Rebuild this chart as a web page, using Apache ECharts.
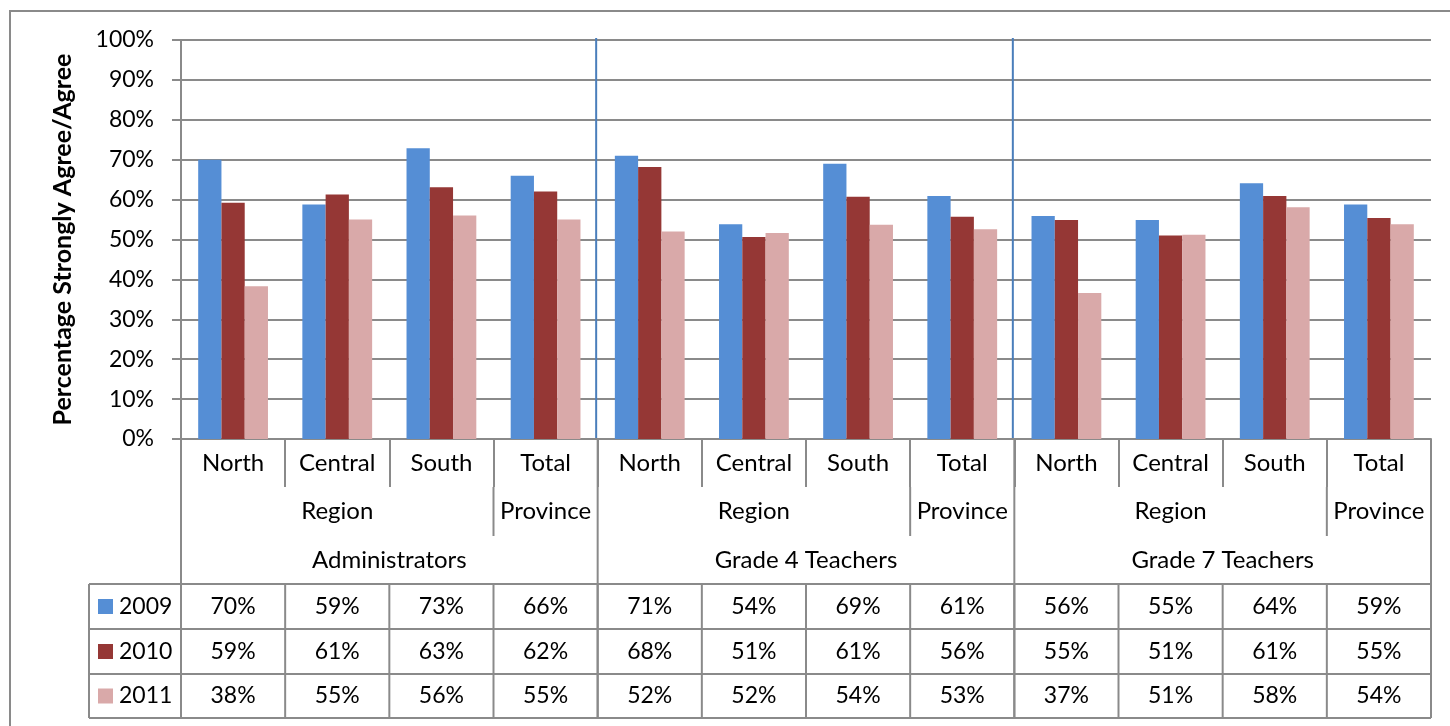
<!DOCTYPE html>
<html>
<head>
<meta charset="utf-8">
<title>Percentage Strongly Agree/Agree</title>
<script src="https://cdn.jsdelivr.net/npm/echarts@6/dist/echarts.min.js"></script>
<style>
	html,body{margin:0;padding:0;background:#fff;}
	#div_chart{width:1450px;height:726px;}
</style>
</head>
<body>
<div id="div_chart"></div>
<script>
var categories = ['North','Central','South','Total','North','Central','South','Total','North','Central','South','Total'];
var subLabels = ['Region','Province'];
var subSpans = [3,1];
var groups = ['Administrators','Grade 4 Teachers','Grade 7 Teachers'];
var years = ['2009','2010','2011'];
var data2009 = [70.0,58.8,72.9,66.0,71.0,53.8,69.0,60.9,55.9,54.9,64.1,58.8];
var data2010 = [59.2,61.3,63.1,62.0,68.2,50.6,60.7,55.7,54.9,51.0,60.9,55.4];
var data2011 = [38.3,55.0,56.0,55.0,52.0,51.6,53.7,52.6,36.6,51.2,58.1,53.8];

var colors = ['#558ED5','#953735','#D9A9A9'];
var lineColor = '#8a8a8a';
var fontFamily = 'Lato, "Open Sans", sans-serif';

function drawChart(){
	var myChart = echarts.init(document.getElementById('div_chart'));
	var allData = [data2009,data2010,data2011];
	var series = [];
	for(var i=0;i<years.length;i++){
		series.push({
			name:years[i],
			type:'bar',
			data:allData[i],
			barGap:'0%',
			barCategoryGap:'33%',
			itemStyle:{color:colors[i]},
			animation:false
		});
	}
	myChart.setOption({
		animation:false,
		color:colors,
		grid:{
			left:181,
			right:19,
			top:40,
			bottom:287
		},
		xAxis:{
			type:'category',
			data:categories,
			axisLine:{lineStyle:{color:lineColor,width:2}},
			axisTick:{show:true,interval:0,length:48,lineStyle:{color:lineColor,width:2}},
			axisLabel:{interval:0,margin:12,fontSize:24,color:'#000',fontFamily:fontFamily}
		},
		yAxis:{
			type:'value',
			min:0,
			max:100,
			interval:10,
			name:'Percentage Strongly Agree/Agree',
			nameLocation:'middle',
			nameGap:106,
			nameTextStyle:{fontSize:25,fontWeight:'bold',color:'#000',fontFamily:fontFamily},
			axisLine:{show:true,lineStyle:{color:lineColor,width:2}},
			axisTick:{show:true,length:9,lineStyle:{color:lineColor,width:2}},
			axisLabel:{formatter:'{value}%',margin:27,fontSize:23,color:'#000',fontFamily:fontFamily},
			splitLine:{lineStyle:{color:lineColor,width:2}}
		},
		series:series
	});

	// table under the plot, positions taken from the axes
	var c0 = myChart.convertToPixel({xAxisIndex:0},0);
	var c1 = myChart.convertToPixel({xAxisIndex:0},1);
	var w = c1-c0;
	var left = c0-w/2;
	var right = left+w*categories.length;
	var yBase = myChart.convertToPixel({yAxisIndex:0},0);
	var yTop = myChart.convertToPixel({yAxisIndex:0},100);
	var rowH = [48,49,48,45,45,44];
	var rows = [yBase];
	for(var r=0;r<rowH.length;r++){
		rows.push(rows[r]+rowH[r]);
	}
	var bottom = rows[rows.length-1];
	var legendLeft = 89;
	var g = [];
	function line(x1,y1,x2,y2,color,width){
		g.push({type:'line',silent:true,shape:{x1:x1,y1:y1,x2:x2,y2:y2},style:{stroke:color||lineColor,lineWidth:width||2}});
	}
	function text(s,x,y,align,size){
		g.push({type:'text',silent:true,style:{text:s,x:x,y:y,align:align||'center',verticalAlign:'middle',fontSize:size||23,fontFamily:fontFamily,fill:'#000'}});
	}

	// outer chart border
	g.push({type:'rect',silent:true,shape:{x:10,y:11,width:1500,height:800},style:{fill:null,stroke:lineColor,lineWidth:2}});

	var perGroup = categories.length/groups.length;
	for(var k=0;k<groups.length;k++){
		var gx = left+k*perGroup*w;
		// group separator through the plot
		if(k>0){
			line(gx-1.5,yTop-2,gx-1.5,yBase,'#4a7ebb',2);
		}
		text(groups[k],gx+perGroup*w/2,(rows[2]+rows[3])/2,'center',24);
		var pos = 0;
		for(var s=0;s<subLabels.length;s++){
			text(subLabels[s],gx+(pos+subSpans[s]/2)*w,(rows[1]+rows[2])/2,'center',24);
			pos += subSpans[s];
			if(pos<perGroup){
				line(gx+pos*w,rows[1],gx+pos*w,rows[2]);
			}
		}
	}
	// vertical lines that run through the whole table
	for(var k=0;k<=groups.length;k++){
		var bx = left+k*perGroup*w;
		line(bx,yBase,bx,bottom);
	}
	// data table
	line(legendLeft,rows[3],right,rows[3]);
	for(var r=0;r<years.length;r++){
		var yc = (rows[3+r]+rows[4+r])/2;
		line(legendLeft,rows[4+r],right,rows[4+r]);
		g.push({type:'rect',silent:true,shape:{x:legendLeft+9,y:yc-7.5,width:15,height:15},style:{fill:colors[r]}});
		text(years[r],legendLeft+30,yc,'left');
		for(var i=0;i<categories.length;i++){
			text(Math.round(allData[r][i])+'%',left+(i+0.5)*w,yc);
		}
	}
	line(legendLeft,rows[3],legendLeft,bottom);
	for(var i=1;i<categories.length;i++){
		line(left+i*w,rows[3],left+i*w,bottom);
	}
	myChart.setOption({graphic:g});
	window.onresize = myChart.resize;
}
drawChart();
</script>
</body>
</html>
